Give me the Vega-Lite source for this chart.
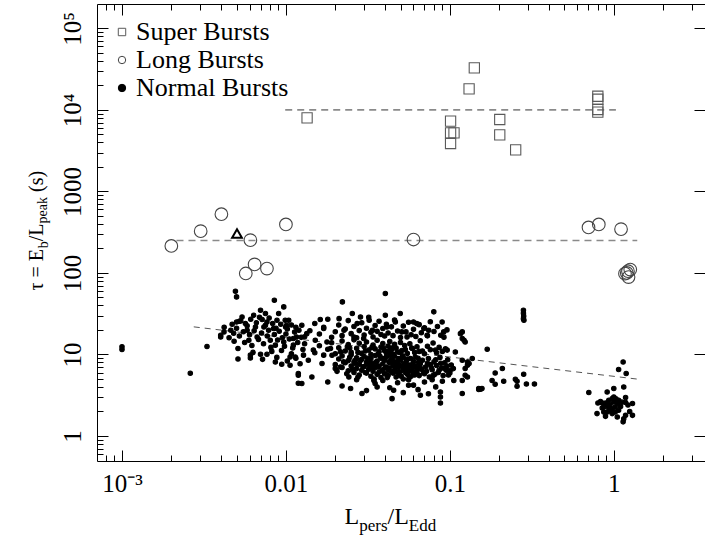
{
"$schema": "https://vega.github.io/schema/vega-lite/v6.json",
"width": 608, "height": 457,
"autosize": {"type": "none"},
"padding": {"left": 97, "top": 4, "right": 0, "bottom": 77},
"background": "white",
"config": {
  "view": {"stroke": "black", "strokeWidth": 1},
  "font": "Liberation Serif",
  "axis": {"domain": false, "grid": false, "labelFont": "Liberation Serif", "titleFont": "Liberation Serif", "tickColor": "black", "tickWidth": 1, "labelColor": "black", "titleColor": "black", "titleFontWeight": "normal", "labelFontSize": 25, "titlePadding": 0},
  "legend": {"orient": "none", "legendX": 12, "legendY": 15, "title": null, "padding": 0, "rowPadding": 2, "labelOffset": 1, "symbolSize": 55, "symbolStrokeWidth": 1, "labelFont": "Liberation Serif", "labelFontSize": 26, "labelColor": "black", "labelLimit": 300}
},
"datasets": {
  "lines": [
    {"g": "super", "x": 0.0099, "y": 10000}, {"g": "super", "x": 1.03, "y": 10000},
    {"g": "long", "x": 0.00215, "y": 250}, {"g": "long", "x": 1.39, "y": 250}
  ],
  "fit": [{"x": 0.00274, "y": 21.8}, {"x": 1.42, "y": 4.96}],
  "tri": [{"x": 0.00503, "y": 304}],
  "pts": [
    {"x":0.01346,"y":7980,"t":"S"},{"x":0.141,"y":32700,"t":"S"},{"x":0.131,"y":18100,"t":"S"},{"x":0.101,"y":7270,"t":"S"},{"x":0.101,"y":5220,"t":"S"},{"x":0.106,"y":5220,"t":"S"},{"x":0.101,"y":3870,"t":"S"},{"x":0.2015,"y":7620,"t":"S"},{"x":0.2015,"y":4930,"t":"S"},{"x":0.252,"y":3230,"t":"S"},{"x":0.799,"y":14700,"t":"S"},{"x":0.799,"y":13500,"t":"S"},{"x":0.799,"y":10100,"t":"S"},{"x":0.799,"y":9400,"t":"S"},
    {"x":0.002,"y":214,"t":"L"},{"x":0.00302,"y":325,"t":"L"},{"x":0.00404,"y":525,"t":"L"},{"x":0.00607,"y":252,"t":"L"},{"x":0.01,"y":393,"t":"L"},{"x":0.00569,"y":98.4,"t":"L"},{"x":0.00644,"y":127,"t":"L"},{"x":0.00766,"y":113,"t":"L"},{"x":0.06,"y":257,"t":"L"},{"x":0.701,"y":361,"t":"L"},{"x":0.81,"y":393,"t":"L"},{"x":1.107,"y":344,"t":"L"},{"x":1.17,"y":98,"t":"L"},{"x":1.26,"y":110,"t":"L"},{"x":1.23,"y":89,"t":"L"},{"x":1.22,"y":105,"t":"L"},{"x":1.2,"y":100,"t":"L"},
    {"x":0.001,"y":12.4,"t":"N"},{"x":0.001,"y":11.5,"t":"N"},{"x":0.00261,"y":5.88,"t":"N"},{"x":0.0033,"y":12.5,"t":"N"},{"x":0.00492,"y":59.6,"t":"N"},{"x":0.005,"y":50.8,"t":"N"},{"x":0.0085,"y":46.2,"t":"N"},{"x":0.0097,"y":38.3,"t":"N"},
    {"x":0.004,"y":17.2,"t":"N"},{"x":0.004,"y":16.4,"t":"N"},{"x":0.00419,"y":18.9,"t":"N"},{"x":0.00461,"y":19.8,"t":"N"},{"x":0.00483,"y":14.5,"t":"N"},{"x":0.0051,"y":11.8,"t":"N"},{"x":0.0051,"y":8.8,"t":"N"},{"x":0.005,"y":25,"t":"N"},{"x":0.0052,"y":25.5,"t":"N"},{"x":0.0054,"y":28.8,"t":"N"},{"x":0.00566,"y":23.9,"t":"N"},{"x":0.0058,"y":19.8,"t":"N"},{"x":0.00594,"y":14.9,"t":"N"},{"x":0.00607,"y":9.8,"t":"N"},{"x":0.00607,"y":9.06,"t":"N"},{"x":0.00636,"y":30.3,"t":"N"},{"x":0.00652,"y":21.7,"t":"N"},{"x":0.00667,"y":16.4,"t":"N"},{"x":0.007,"y":34.9,"t":"N"},{"x":0.00716,"y":26.8,"t":"N"},{"x":0.00734,"y":21.7,"t":"N"},{"x":0.007,"y":10.05,"t":"N"},{"x":0.00766,"y":10.05,"t":"N"},{"x":0.0075,"y":31.8,"t":"N"},{"x":0.00766,"y":25,"t":"N"},{"x":0.00784,"y":19.8,"t":"N"},{"x":0.00803,"y":14.9,"t":"N"},{"x":0.0084,"y":20.8,"t":"N"},{"x":0.00862,"y":13,"t":"N"},{"x":0.00862,"y":8.09,"t":"N"},{"x":0.00882,"y":26.3,"t":"N"},{"x":0.00903,"y":31.8,"t":"N"},{"x":0.00943,"y":7.58,"t":"N"},{"x":0.0097,"y":14.2,"t":"N"},{"x":0.00996,"y":21.7,"t":"N"},{"x":0.0104,"y":26.3,"t":"N"},{"x":0.0106,"y":9.3,"t":"N"},{"x":0.0106,"y":7.37,"t":"N"},{"x":0.0111,"y":13,"t":"N"},{"x":0.0116,"y":16.4,"t":"N"},{"x":0.0119,"y":5.56,"t":"N"},{"x":0.0119,"y":4.43,"t":"N"},
    {"x":0.0099,"y":26.3,"t":"N"},{"x":0.0101,"y":22.8,"t":"N"},{"x":0.0111,"y":15.7,"t":"N"},{"x":0.0114,"y":9.3,"t":"N"},{"x":0.0119,"y":5.83,"t":"N"},{"x":0.0125,"y":4.4,"t":"N"},{"x":0.0125,"y":22.8,"t":"N"},{"x":0.0134,"y":18,"t":"N"},{"x":0.0137,"y":8.49,"t":"N"},{"x":0.0144,"y":5.3,"t":"N"},{"x":0.0147,"y":11.3,"t":"N"},{"x":0.0151,"y":14.9,"t":"N"},{"x":0.0162,"y":26.8,"t":"N"},{"x":0.0166,"y":7.73,"t":"N"},{"x":0.017,"y":20.8,"t":"N"},{"x":0.0178,"y":14.2,"t":"N"},{"x":0.0187,"y":11.8,"t":"N"},{"x":0.0191,"y":9.76,"t":"N"},{"x":0.02,"y":6.71,"t":"N"},{"x":0.0211,"y":27.5,"t":"N"},{"x":0.0221,"y":44.1,"t":"N"},{"x":0.0226,"y":19.8,"t":"N"},{"x":0.0237,"y":12.4,"t":"N"},{"x":0.0242,"y":5.3,"t":"N"},{"x":0.0248,"y":3.82,"t":"N"},{"x":0.0254,"y":31.8,"t":"N"},{"x":0.026,"y":16.4,"t":"N"},{"x":0.0265,"y":8.49,"t":"N"},{"x":0.0272,"y":23.9,"t":"N"},{"x":0.0285,"y":28.8,"t":"N"},{"x":0.0291,"y":3.31,"t":"N"},{"x":0.0298,"y":15.7,"t":"N"},{"x":0.0322,"y":26.3,"t":"N"},{"x":0.0337,"y":19.8,"t":"N"},{"x":0.0344,"y":4.8,"t":"N"},{"x":0.036,"y":3.99,"t":"N"},{"x":0.0404,"y":55.9,"t":"N"},{"x":0.0404,"y":30.3,"t":"N"},{"x":0.0413,"y":21.7,"t":"N"},{"x":0.0433,"y":11.8,"t":"N"},{"x":0.0454,"y":3.64,"t":"N"},{"x":0.0444,"y":2.87,"t":"N"},{"x":0.0465,"y":25,"t":"N"},{"x":0.0498,"y":31.8,"t":"N"},{"x":0.0509,"y":18.9,"t":"N"},{"x":0.0521,"y":7.02,"t":"N"},{"x":0.0548,"y":16.4,"t":"N"},{"x":0.056,"y":4.19,"t":"N"},{"x":0.06,"y":25,"t":"N"},{"x":0.0628,"y":23.9,"t":"N"},{"x":0.0661,"y":3.16,"t":"N"},{"x":0.0694,"y":20.8,"t":"N"},{"x":0.0727,"y":17.2,"t":"N"},{"x":0.0743,"y":19.8,"t":"N"},{"x":0.0798,"y":33.3,"t":"N"},{"x":0.0817,"y":11.3,"t":"N"},{"x":0.0876,"y":3.47,"t":"N"},{"x":0.0876,"y":3.01,"t":"N"},{"x":0.0876,"y":2.54,"t":"N"},{"x":0.0897,"y":25,"t":"N"},{"x":0.0917,"y":18.9,"t":"N"},{"x":0.0963,"y":11.3,"t":"N"},{"x":0.1005,"y":6.4,"t":"N"},{"x":0.1057,"y":4.8,"t":"N"},{"x":0.108,"y":10.7,"t":"N"},{"x":0.116,"y":18,"t":"N"},{"x":0.119,"y":15.7,"t":"N"},{"x":0.119,"y":8.49,"t":"N"},{"x":0.119,"y":3.31,"t":"N"},{"x":0.124,"y":5.56,"t":"N"},{"x":0.128,"y":8.09,"t":"N"},{"x":0.137,"y":8.9,"t":"N"},{"x":0.15,"y":3.82,"t":"N"},
    {"x":0.119,"y":18.9,"t":"N"},{"x":0.122,"y":14.9,"t":"N"},{"x":0.124,"y":14.2,"t":"N"},{"x":0.124,"y":6.71,"t":"N"},{"x":0.128,"y":7.37,"t":"N"},{"x":0.131,"y":7.73,"t":"N"},{"x":0.128,"y":5.3,"t":"N"},{"x":0.119,"y":4.8,"t":"N"},{"x":0.169,"y":11.6,"t":"N"},{"x":0.15,"y":3.71,"t":"N"},{"x":0.157,"y":3.82,"t":"N"},{"x":0.154,"y":3.75,"t":"N"},{"x":0.181,"y":4.8,"t":"N"},{"x":0.189,"y":5.93,"t":"N"},{"x":0.189,"y":4.31,"t":"N"},{"x":0.209,"y":6.71,"t":"N"},{"x":0.213,"y":4.69,"t":"N"},{"x":0.251,"y":4.96,"t":"N"},{"x":0.257,"y":4.69,"t":"N"},{"x":0.257,"y":4.07,"t":"N"},{"x":0.282,"y":5.71,"t":"N"},{"x":0.293,"y":4.34,"t":"N"},{"x":0.328,"y":4.34,"t":"N"},{"x":0.281,"y":34.9,"t":"N"},{"x":0.281,"y":32,"t":"N"},{"x":0.282,"y":29.5,"t":"N"},{"x":0.281,"y":27.4,"t":"N"},{"x":0.283,"y":26.3,"t":"N"},
    {"x":0.704,"y":3.41,"t":"N"},{"x":1.14,"y":8.09,"t":"N"},{"x":1.07,"y":6.53,"t":"N"},{"x":1.19,"y":5.83,"t":"N"},{"x":1.15,"y":3.99,"t":"N"},{"x":1.0,"y":3.82,"t":"N"},{"x":0.911,"y":3.47,"t":"N"},{"x":0.8,"y":2.54,"t":"N"},{"x":0.85,"y":2.54,"t":"N"},{"x":0.89,"y":2.54,"t":"N"},{"x":0.932,"y":2.74,"t":"N"},{"x":0.978,"y":2.87,"t":"N"},{"x":1.0,"y":2.61,"t":"N"},{"x":1.05,"y":2.5,"t":"N"},{"x":1.02,"y":2.27,"t":"N"},{"x":0.978,"y":2.17,"t":"N"},{"x":0.932,"y":2.21,"t":"N"},{"x":0.911,"y":2.38,"t":"N"},{"x":0.869,"y":2.27,"t":"N"},{"x":1.07,"y":2.74,"t":"N"},{"x":1.18,"y":2.96,"t":"N"},{"x":1.18,"y":2.57,"t":"N"},{"x":1.3,"y":2.5,"t":"N"},{"x":0.79,"y":1.88,"t":"N"},{"x":0.869,"y":1.97,"t":"N"},{"x":0.89,"y":1.74,"t":"N"},{"x":0.978,"y":1.88,"t":"N"},{"x":1.05,"y":1.71,"t":"N"},{"x":1.15,"y":1.63,"t":"N"},{"x":1.14,"y":1.49,"t":"N"},{"x":1.18,"y":1.79,"t":"N"},{"x":1.3,"y":1.79,"t":"N"},{"x":1.0,"y":3.01,"t":"N"},{"x":0.955,"y":2.03,"t":"N"},{"x":1.07,"y":2.07,"t":"N"},{"x":0.911,"y":1.97,"t":"N"},{"x":1.02,"y":1.97,"t":"N"},{"x":1.1,"y":2.3,"t":"N"},{"x":1.12,"y":2.6,"t":"N"},{"x":0.95,"y":2.45,"t":"N"},{"x":1.03,"y":2.85,"t":"N"},{"x":0.85,"y":2.2,"t":"N"},{"x":1.25,"y":2.0,"t":"N"},{"x":1.22,"y":2.4,"t":"N"},{"x":0.83,"y":2.65,"t":"N"},
    {"x":0.020,"y":7.5,"t":"N"},{"x":0.021,"y":8.8,"t":"N"},{"x":0.022,"y":6.9,"t":"N"},{"x":0.022,"y":9.6,"t":"N"},{"x":0.023,"y":7.9,"t":"N"},{"x":0.024,"y":6.3,"t":"N"},{"x":0.024,"y":8.4,"t":"N"},{"x":0.025,"y":9.9,"t":"N"},{"x":0.025,"y":7.2,"t":"N"},{"x":0.026,"y":6.0,"t":"N"},{"x":0.026,"y":8.1,"t":"N"},{"x":0.027,"y":9.1,"t":"N"},{"x":0.027,"y":6.7,"t":"N"},{"x":0.028,"y":7.6,"t":"N"},{"x":0.028,"y":5.6,"t":"N"},{"x":0.029,"y":8.7,"t":"N"},{"x":0.029,"y":6.4,"t":"N"},{"x":0.030,"y":7.1,"t":"N"},{"x":0.030,"y":9.4,"t":"N"},{"x":0.031,"y":5.9,"t":"N"},{"x":0.031,"y":8.0,"t":"N"},{"x":0.032,"y":6.6,"t":"N"},{"x":0.032,"y":7.4,"t":"N"},{"x":0.033,"y":8.9,"t":"N"},{"x":0.033,"y":5.4,"t":"N"},{"x":0.034,"y":6.2,"t":"N"},{"x":0.034,"y":7.8,"t":"N"},{"x":0.035,"y":9.7,"t":"N"},{"x":0.035,"y":6.9,"t":"N"},{"x":0.036,"y":5.7,"t":"N"},{"x":0.036,"y":8.3,"t":"N"},{"x":0.037,"y":7.2,"t":"N"},{"x":0.037,"y":6.1,"t":"N"},{"x":0.038,"y":9.0,"t":"N"},{"x":0.038,"y":5.2,"t":"N"},{"x":0.039,"y":7.7,"t":"N"},{"x":0.039,"y":6.5,"t":"N"},{"x":0.040,"y":8.5,"t":"N"},{"x":0.040,"y":5.8,"t":"N"},{"x":0.041,"y":7.0,"t":"N"},{"x":0.041,"y":9.3,"t":"N"},{"x":0.042,"y":6.3,"t":"N"},{"x":0.042,"y":5.5,"t":"N"},{"x":0.043,"y":7.9,"t":"N"},{"x":0.043,"y":6.8,"t":"N"},{"x":0.044,"y":8.7,"t":"N"},{"x":0.045,"y":5.9,"t":"N"},{"x":0.045,"y":7.3,"t":"N"},{"x":0.046,"y":6.4,"t":"N"},{"x":0.046,"y":9.5,"t":"N"},{"x":0.047,"y":5.3,"t":"N"},{"x":0.047,"y":8.0,"t":"N"},{"x":0.048,"y":6.9,"t":"N"},{"x":0.048,"y":7.6,"t":"N"},{"x":0.049,"y":5.6,"t":"N"},{"x":0.05,"y":8.4,"t":"N"},{"x":0.05,"y":6.2,"t":"N"},{"x":0.051,"y":7.1,"t":"N"},{"x":0.052,"y":5.0,"t":"N"},{"x":0.052,"y":9.1,"t":"N"},{"x":0.053,"y":6.6,"t":"N"},{"x":0.054,"y":7.8,"t":"N"},{"x":0.055,"y":5.7,"t":"N"},{"x":0.055,"y":8.8,"t":"N"},{"x":0.056,"y":6.3,"t":"N"},{"x":0.057,"y":7.4,"t":"N"},{"x":0.058,"y":5.4,"t":"N"},{"x":0.059,"y":6.9,"t":"N"},{"x":0.06,"y":8.2,"t":"N"},{"x":0.06,"y":5.9,"t":"N"},{"x":0.062,"y":7.2,"t":"N"},{"x":0.063,"y":6.1,"t":"N"},{"x":0.064,"y":9.0,"t":"N"},{"x":0.065,"y":5.5,"t":"N"},{"x":0.066,"y":7.7,"t":"N"},{"x":0.067,"y":6.6,"t":"N"},{"x":0.068,"y":8.5,"t":"N"},{"x":0.07,"y":5.8,"t":"N"},{"x":0.071,"y":7.0,"t":"N"},{"x":0.072,"y":6.2,"t":"N"},{"x":0.074,"y":8.9,"t":"N"},{"x":0.075,"y":5.3,"t":"N"},{"x":0.076,"y":7.5,"t":"N"},{"x":0.078,"y":6.5,"t":"N"},{"x":0.08,"y":8.1,"t":"N"},{"x":0.081,"y":5.7,"t":"N"},{"x":0.083,"y":7.3,"t":"N"},{"x":0.085,"y":6.0,"t":"N"},{"x":0.087,"y":9.2,"t":"N"},{"x":0.089,"y":6.8,"t":"N"},{"x":0.091,"y":5.5,"t":"N"},{"x":0.093,"y":7.9,"t":"N"},{"x":0.095,"y":6.4,"t":"N"},{"x":0.097,"y":8.6,"t":"N"},{"x":0.1,"y":5.9,"t":"N"},{"x":0.102,"y":7.4,"t":"N"},{"x":0.105,"y":6.7,"t":"N"},
    {"x":0.0205,"y":6.2,"t":"N"},{"x":0.0215,"y":7.0,"t":"N"},{"x":0.0225,"y":8.1,"t":"N"},{"x":0.0235,"y":5.8,"t":"N"},{"x":0.0245,"y":9.2,"t":"N"},{"x":0.0255,"y":6.6,"t":"N"},{"x":0.0265,"y":7.7,"t":"N"},{"x":0.0275,"y":5.3,"t":"N"},{"x":0.0285,"y":8.4,"t":"N"},{"x":0.0295,"y":7.0,"t":"N"},{"x":0.0305,"y":6.0,"t":"N"},{"x":0.0315,"y":9.0,"t":"N"},{"x":0.0325,"y":7.9,"t":"N"},{"x":0.0335,"y":6.9,"t":"N"},{"x":0.0345,"y":5.0,"t":"N"},{"x":0.0355,"y":8.0,"t":"N"},{"x":0.0365,"y":7.0,"t":"N"},{"x":0.0375,"y":9.5,"t":"N"},{"x":0.0385,"y":6.3,"t":"N"},{"x":0.0395,"y":8.9,"t":"N"},{"x":0.0405,"y":6.9,"t":"N"},{"x":0.0415,"y":5.2,"t":"N"},{"x":0.0425,"y":8.1,"t":"N"},{"x":0.0435,"y":9.8,"t":"N"},{"x":0.0445,"y":6.0,"t":"N"},{"x":0.0455,"y":8.2,"t":"N"},{"x":0.0465,"y":7.0,"t":"N"},{"x":0.0475,"y":6.1,"t":"N"},{"x":0.0485,"y":8.9,"t":"N"},{"x":0.0495,"y":7.3,"t":"N"},{"x":0.0505,"y":5.4,"t":"N"},{"x":0.0515,"y":9.6,"t":"N"},{"x":0.0525,"y":7.7,"t":"N"},{"x":0.0535,"y":6.0,"t":"N"},{"x":0.0545,"y":8.4,"t":"N"},{"x":0.0555,"y":7.0,"t":"N"},{"x":0.0565,"y":5.2,"t":"N"},{"x":0.0575,"y":8.9,"t":"N"},{"x":0.0585,"y":6.2,"t":"N"},{"x":0.0595,"y":7.6,"t":"N"},{"x":0.061,"y":5.6,"t":"N"},{"x":0.0615,"y":9.3,"t":"N"},{"x":0.0625,"y":6.6,"t":"N"},{"x":0.0645,"y":8.0,"t":"N"},{"x":0.0655,"y":7.0,"t":"N"},{"x":0.069,"y":6.0,"t":"N"},{"x":0.073,"y":7.8,"t":"N"},{"x":0.077,"y":6.9,"t":"N"},{"x":0.079,"y":5.5,"t":"N"},{"x":0.082,"y":8.6,"t":"N"},{"x":0.086,"y":6.4,"t":"N"},{"x":0.088,"y":7.8,"t":"N"},{"x":0.092,"y":6.8,"t":"N"},{"x":0.096,"y":7.2,"t":"N"},{"x":0.098,"y":5.6,"t":"N"},
    {"x":0.0215,"y":10.8,"t":"N"},{"x":0.0245,"y":12.0,"t":"N"},{"x":0.0275,"y":10.6,"t":"N"},{"x":0.0305,"y":11.0,"t":"N"},{"x":0.0335,"y":12.2,"t":"N"},{"x":0.0365,"y":10.1,"t":"N"},{"x":0.0395,"y":11.9,"t":"N"},{"x":0.0425,"y":10.9,"t":"N"},{"x":0.0455,"y":12.4,"t":"N"},{"x":0.0495,"y":10.6,"t":"N"},{"x":0.0535,"y":11.5,"t":"N"},{"x":0.0585,"y":12.0,"t":"N"},{"x":0.065,"y":10.9,"t":"N"},
    {"x":0.015,"y":10.5,"t":"N"},{"x":0.016,"y":12.8,"t":"N"},{"x":0.017,"y":9.8,"t":"N"},{"x":0.018,"y":11.6,"t":"N"},{"x":0.019,"y":13.9,"t":"N"},{"x":0.02,"y":10.2,"t":"N"},{"x":0.021,"y":12.1,"t":"N"},{"x":0.022,"y":14.6,"t":"N"},{"x":0.023,"y":11.0,"t":"N"},{"x":0.024,"y":13.2,"t":"N"},{"x":0.025,"y":10.6,"t":"N"},{"x":0.026,"y":15.1,"t":"N"},{"x":0.027,"y":11.9,"t":"N"},{"x":0.028,"y":13.7,"t":"N"},{"x":0.029,"y":10.3,"t":"N"},{"x":0.03,"y":12.5,"t":"N"},{"x":0.031,"y":14.2,"t":"N"},{"x":0.032,"y":11.3,"t":"N"},{"x":0.033,"y":10.0,"t":"N"},{"x":0.034,"y":13.0,"t":"N"},{"x":0.035,"y":11.7,"t":"N"},{"x":0.036,"y":14.9,"t":"N"},{"x":0.037,"y":10.8,"t":"N"},{"x":0.038,"y":12.3,"t":"N"},{"x":0.039,"y":13.6,"t":"N"},{"x":0.04,"y":11.1,"t":"N"},{"x":0.041,"y":10.4,"t":"N"},{"x":0.042,"y":12.7,"t":"N"},{"x":0.043,"y":14.4,"t":"N"},{"x":0.044,"y":11.5,"t":"N"},{"x":0.045,"y":10.1,"t":"N"},{"x":0.046,"y":13.3,"t":"N"},{"x":0.047,"y":12.0,"t":"N"},{"x":0.048,"y":10.7,"t":"N"},{"x":0.05,"y":14.0,"t":"N"},{"x":0.051,"y":11.2,"t":"N"},{"x":0.053,"y":12.9,"t":"N"},{"x":0.055,"y":10.3,"t":"N"},{"x":0.057,"y":13.5,"t":"N"},{"x":0.059,"y":11.8,"t":"N"},{"x":0.061,"y":10.6,"t":"N"},{"x":0.063,"y":12.4,"t":"N"},{"x":0.066,"y":14.7,"t":"N"},{"x":0.068,"y":11.0,"t":"N"},{"x":0.07,"y":10.2,"t":"N"},{"x":0.073,"y":12.6,"t":"N"},{"x":0.076,"y":11.4,"t":"N"},{"x":0.079,"y":13.8,"t":"N"},{"x":0.083,"y":10.5,"t":"N"},{"x":0.086,"y":12.2,"t":"N"},{"x":0.09,"y":10.9,"t":"N"},{"x":0.094,"y":11.7,"t":"N"},
    {"x":0.013,"y":16.5,"t":"N"},{"x":0.014,"y":19.5,"t":"N"},{"x":0.015,"y":24.0,"t":"N"},{"x":0.016,"y":17.8,"t":"N"},{"x":0.017,"y":21.5,"t":"N"},{"x":0.018,"y":27.0,"t":"N"},{"x":0.019,"y":16.2,"t":"N"},{"x":0.02,"y":19.0,"t":"N"},{"x":0.021,"y":23.0,"t":"N"},{"x":0.022,"y":17.0,"t":"N"},{"x":0.023,"y":20.5,"t":"N"},{"x":0.024,"y":26.0,"t":"N"},{"x":0.025,"y":18.0,"t":"N"},{"x":0.026,"y":22.0,"t":"N"},{"x":0.027,"y":16.0,"t":"N"},{"x":0.028,"y":19.6,"t":"N"},{"x":0.029,"y":24.5,"t":"N"},{"x":0.03,"y":17.3,"t":"N"},{"x":0.031,"y":21.0,"t":"N"},{"x":0.032,"y":28.5,"t":"N"},{"x":0.033,"y":18.7,"t":"N"},{"x":0.034,"y":16.4,"t":"N"},{"x":0.035,"y":22.6,"t":"N"},{"x":0.036,"y":19.2,"t":"N"},{"x":0.037,"y":25.5,"t":"N"},{"x":0.038,"y":17.6,"t":"N"},{"x":0.039,"y":20.8,"t":"N"},{"x":0.04,"y":16.8,"t":"N"},{"x":0.041,"y":23.5,"t":"N"},{"x":0.042,"y":18.3,"t":"N"},{"x":0.044,"y":21.8,"t":"N"},{"x":0.045,"y":17.0,"t":"N"},{"x":0.046,"y":26.5,"t":"N"},{"x":0.048,"y":19.4,"t":"N"},{"x":0.05,"y":16.1,"t":"N"},{"x":0.052,"y":22.3,"t":"N"},{"x":0.054,"y":18.9,"t":"N"},{"x":0.056,"y":24.8,"t":"N"},{"x":0.058,"y":17.4,"t":"N"},{"x":0.06,"y":20.3,"t":"N"},{"x":0.062,"y":16.6,"t":"N"},{"x":0.065,"y":23.2,"t":"N"},{"x":0.067,"y":18.5,"t":"N"},{"x":0.07,"y":21.2,"t":"N"},{"x":0.073,"y":16.9,"t":"N"},{"x":0.076,"y":25.2,"t":"N"},{"x":0.08,"y":19.1,"t":"N"},{"x":0.084,"y":22.0,"t":"N"},{"x":0.088,"y":17.2,"t":"N"},{"x":0.092,"y":16.3,"t":"N"},{"x":0.096,"y":20.0,"t":"N"},
    {"x":0.018,"y":4.6,"t":"N"},{"x":0.022,"y":4.1,"t":"N"},{"x":0.027,"y":4.9,"t":"N"},{"x":0.031,"y":3.6,"t":"N"},{"x":0.035,"y":4.4,"t":"N"},{"x":0.039,"y":4.8,"t":"N"},{"x":0.043,"y":3.9,"t":"N"},{"x":0.048,"y":4.5,"t":"N"},{"x":0.052,"y":3.4,"t":"N"},{"x":0.056,"y":4.9,"t":"N"},{"x":0.06,"y":4.2,"t":"N"},{"x":0.064,"y":3.7,"t":"N"},{"x":0.07,"y":4.6,"t":"N"},{"x":0.074,"y":3.3,"t":"N"},{"x":0.078,"y":4.9,"t":"N"},{"x":0.082,"y":4.0,"t":"N"},{"x":0.09,"y":4.7,"t":"N"},
    {"x":0.0042,"y":21.5,"t":"N"},{"x":0.0045,"y":16.0,"t":"N"},{"x":0.0047,"y":23.5,"t":"N"},{"x":0.0048,"y":18.2,"t":"N"},{"x":0.005,"y":21.0,"t":"N"},{"x":0.0052,"y":16.8,"t":"N"},{"x":0.0053,"y":25.8,"t":"N"},{"x":0.0055,"y":19.0,"t":"N"},{"x":0.0056,"y":14.0,"t":"N"},{"x":0.0058,"y":22.5,"t":"N"},{"x":0.006,"y":17.5,"t":"N"},{"x":0.0061,"y":27.0,"t":"N"},{"x":0.0062,"y":12.9,"t":"N"},{"x":0.0064,"y":19.5,"t":"N"},{"x":0.0066,"y":24.5,"t":"N"},{"x":0.0068,"y":15.3,"t":"N"},{"x":0.0069,"y":28.5,"t":"N"},{"x":0.0071,"y":18.3,"t":"N"},{"x":0.0073,"y":13.5,"t":"N"},{"x":0.0075,"y":22.8,"t":"N"},{"x":0.0077,"y":16.8,"t":"N"},{"x":0.0079,"y":28.0,"t":"N"},{"x":0.0081,"y":12.2,"t":"N"},{"x":0.0083,"y":24.0,"t":"N"},{"x":0.0085,"y":17.6,"t":"N"},{"x":0.0087,"y":21.0,"t":"N"},{"x":0.0089,"y":15.0,"t":"N"},{"x":0.0091,"y":19.3,"t":"N"},{"x":0.0093,"y":23.5,"t":"N"},{"x":0.0095,"y":16.0,"t":"N"},{"x":0.0098,"y":12.6,"t":"N"},{"x":0.01,"y":17.8,"t":"N"},{"x":0.0102,"y":20.5,"t":"N"},{"x":0.0105,"y":15.5,"t":"N"},{"x":0.0108,"y":23.0,"t":"N"},{"x":0.011,"y":12.0,"t":"N"},{"x":0.0113,"y":18.8,"t":"N"},{"x":0.0115,"y":21.5,"t":"N"},{"x":0.0118,"y":14.0,"t":"N"},{"x":0.012,"y":19.8,"t":"N"},{"x":0.0124,"y":16.2,"t":"N"},{"x":0.0127,"y":11.5,"t":"N"},{"x":0.013,"y":13.5,"t":"N"},
    {"x":0.0063,"y":10.6,"t":"N"},{"x":0.0072,"y":8.7,"t":"N"},{"x":0.0082,"y":10.9,"t":"N"},{"x":0.0088,"y":9.2,"t":"N"},{"x":0.0094,"y":11.2,"t":"N"},{"x":0.0102,"y":8.3,"t":"N"},{"x":0.0108,"y":10.2,"t":"N"},{"x":0.0115,"y":9.0,"t":"N"},{"x":0.0122,"y":7.7,"t":"N"},{"x":0.0128,"y":9.8,"t":"N"}
  ]
},
"resolve": {"axis": {"x": "independent", "y": "independent"}},
"layer": [
  {
    "data": {"name": "lines"},
    "mark": {"type": "line", "stroke": "#8a8a8a", "strokeWidth": 1.6, "strokeDash": [7, 5], "clip": true},
    "encoding": {
      "x": {"field": "x", "type": "quantitative",
        "scale": {"type": "log", "domain": [0.000704, 3.6], "nice": false, "zero": false},
        "axis": {"orient": "bottom", "values": [0.0008,0.0009,0.002,0.003,0.004,0.005,0.006,0.007,0.008,0.009,0.02,0.03,0.04,0.05,0.06,0.07,0.08,0.09,0.2,0.3,0.4,0.5,0.6,0.7,0.8,0.9,2,3], "tickSize": -6, "labels": false,
          "title": "pers", "titleX": 261.7, "titleY": 69, "titleAlign": "left", "titleBaseline": "alphabetic", "titleAngle": 0, "titleFontSize": 17}},
      "y": {"field": "y", "type": "quantitative",
        "scale": {"type": "log", "domain": [0.493, 199000], "nice": false, "zero": false},
        "axis": {"orient": "left", "values": [0.6,0.7,0.8,0.9,2,3,4,5,6,7,8,9,20,30,40,50,60,70,80,90,200,300,400,500,600,700,800,900,2000,3000,4000,5000,6000,7000,8000,9000,20000,30000,40000,50000,60000,70000,80000,90000], "tickSize": -6, "labels": false,
          "title": "b", "titleX": -50, "titleY": 243.7, "titleAlign": "left", "titleBaseline": "alphabetic", "titleAngle": 270, "titleFontSize": 14}},
      "detail": {"field": "g", "type": "nominal"}
    }
  },
  {
    "data": {"name": "fit"},
    "mark": {"type": "line", "stroke": "#555555", "strokeWidth": 1, "strokeDash": [6, 5], "clip": true},
    "encoding": {
      "x": {"field": "x", "type": "quantitative",
        "scale": {"type": "log", "domain": [0.000704, 3.6], "nice": false, "zero": false},
        "axis": {"orient": "top", "values": [0.0008,0.0009,0.002,0.003,0.004,0.005,0.006,0.007,0.008,0.009,0.02,0.03,0.04,0.05,0.06,0.07,0.08,0.09,0.2,0.3,0.4,0.5,0.6,0.7,0.8,0.9,2,3], "tickSize": -6, "labels": false,
          "title": "Edd", "titleX": 311.3, "titleY": 526, "titleAlign": "left", "titleBaseline": "alphabetic", "titleAngle": 0, "titleFontSize": 17}},
      "y": {"field": "y", "type": "quantitative",
        "scale": {"type": "log", "domain": [0.493, 199000], "nice": false, "zero": false},
        "axis": {"orient": "right", "values": [1,10,100,1000,10000,100000], "tickSize": -11, "labels": false,
          "title": "peak", "titleX": -659, "titleY": 218.9, "titleAlign": "left", "titleBaseline": "alphabetic", "titleAngle": 270, "titleFontSize": 14}}
    }
  },
  {
    "data": {"name": "tri"},
    "mark": {"type": "point", "shape": "triangle-up", "filled": false, "stroke": "black", "strokeWidth": 2, "size": 95, "opacity": 1},
    "encoding": {
      "x": {"field": "x", "type": "quantitative",
        "scale": {"type": "log", "domain": [0.000704, 3.6], "nice": false, "zero": false},
        "axis": {"orient": "top", "values": [0.001,0.01,0.1,1], "tickSize": -11, "labels": false,
          "title": "/L", "titleX": 290, "titleY": 519, "titleAlign": "left", "titleBaseline": "alphabetic", "titleAngle": 0, "titleFontSize": 24}},
      "y": {"field": "y", "type": "quantitative",
        "scale": {"type": "log", "domain": [0.493, 199000], "nice": false, "zero": false},
        "axis": {"orient": "left", "ticks": false, "labels": false,
          "title": "(s)", "titleX": -55, "titleY": 187.5, "titleAlign": "left", "titleBaseline": "alphabetic", "titleAngle": 270, "titleFontSize": 20}}
    }
  },
  {
    "data": {"name": "tri"},
    "mark": {"type": "point", "opacity": 0},
    "encoding": {
      "x": {"field": "x", "type": "quantitative",
        "scale": {"type": "log", "domain": [0.000704, 3.6], "nice": false, "zero": false}, "axis": null},
      "y": {"field": "y", "type": "quantitative",
        "scale": {"type": "log", "domain": [0.493, 199000], "nice": false, "zero": false},
        "axis": {"orient": "left", "ticks": false, "labels": false,
          "title": "/L", "titleX": -55, "titleY": 236.7, "titleAlign": "left", "titleBaseline": "alphabetic", "titleAngle": 270, "titleFontSize": 20}}
    }
  },
  {
    "data": {"name": "pts"},
    "transform": [{"filter": "datum.t == 'S'"}],
    "mark": {"type": "point", "filled": true, "opacity": 1, "strokeWidth": 1.1, "size": 105},
    "encoding": {
      "x": {"field": "x", "type": "quantitative", "scale": {"type": "log", "domain": [0.000704, 3.6], "nice": false, "zero": false}, "axis": null},
      "y": {"field": "y", "type": "quantitative", "scale": {"type": "log", "domain": [0.493, 199000], "nice": false, "zero": false}, "axis": null},
      "shape": {"field": "t", "type": "nominal", "scale": {"domain": ["S", "L", "N"], "range": ["square", "circle", "circle"]}},
      "color": {"field": "t", "type": "nominal", "scale": {"domain": ["S", "L", "N"], "range": ["transparent", "transparent", "black"]}},
      "stroke": {"field": "t", "type": "nominal", "scale": {"domain": ["S", "L", "N"], "range": ["#5a5a5a", "#444444", "black"]}}
    }
  },
  {
    "data": {"name": "pts"},
    "transform": [{"filter": "datum.t == 'L'"}],
    "mark": {"type": "point", "filled": true, "opacity": 1, "strokeWidth": 1.1, "size": 160},
    "encoding": {
      "x": {"field": "x", "type": "quantitative", "scale": {"type": "log", "domain": [0.000704, 3.6], "nice": false, "zero": false}, "axis": null},
      "y": {"field": "y", "type": "quantitative", "scale": {"type": "log", "domain": [0.493, 199000], "nice": false, "zero": false}, "axis": null},
      "shape": {"field": "t", "type": "nominal", "scale": {"domain": ["S", "L", "N"], "range": ["square", "circle", "circle"]}},
      "color": {"field": "t", "type": "nominal", "scale": {"domain": ["S", "L", "N"], "range": ["transparent", "transparent", "black"]}},
      "stroke": {"field": "t", "type": "nominal", "scale": {"domain": ["S", "L", "N"], "range": ["#5a5a5a", "#444444", "black"]}}
    }
  },
  {
    "data": {"name": "pts"},
    "transform": [{"filter": "datum.t == 'N'"}],
    "mark": {"type": "point", "filled": true, "opacity": 1, "strokeWidth": 1.1, "size": 20},
    "encoding": {
      "x": {"field": "x", "type": "quantitative",
        "scale": {"type": "log", "domain": [0.000704, 3.6], "nice": false, "zero": false},
        "axis": {"orient": "bottom", "values": [0.001,0.01,0.1,1], "tickSize": -11, "labelPadding": 41, "labelBaseline": "alphabetic", "labelAlign": "center", "labelFlush": false, "labelOverlap": false,
          "labelExpr": "datum.value < 0.005 ? '10⁻³' : datum.value < 0.05 ? '0.01' : datum.value < 0.5 ? '0.1' : '1'",
          "title": "L", "titleX": 247, "titleY": 62, "titleAlign": "left", "titleBaseline": "alphabetic", "titleAngle": 0, "titleFontSize": 24}},
      "y": {"field": "y", "type": "quantitative",
        "scale": {"type": "log", "domain": [0.493, 199000], "nice": false, "zero": false},
        "axis": {"orient": "left", "values": [1,10,100,1000,10000,100000], "tickSize": -11, "labelPadding": 27.7, "labelAngle": 270, "labelAlign": "center", "labelBaseline": "alphabetic", "labelFlush": false, "labelOverlap": false,
          "labelExpr": "datum.value < 5 ? '1' : datum.value < 50 ? '10' : datum.value < 500 ? '100' : datum.value < 5000 ? '1000' : datum.value < 50000 ? '10⁴' : '10⁵'",
          "title": "τ = E", "titleX": -55, "titleY": 286, "titleAlign": "left", "titleBaseline": "alphabetic", "titleAngle": 270, "titleFontSize": 20}},
      "shape": {"field": "t", "type": "nominal", "scale": {"domain": ["S", "L", "N"], "range": ["square", "circle", "circle"]},
        "legend": {"labelExpr": "datum.value == 'S' ? 'Super Bursts' : datum.value == 'L' ? 'Long Bursts' : 'Normal Bursts'"}},
      "color": {"field": "t", "type": "nominal", "scale": {"domain": ["S", "L", "N"], "range": ["transparent", "transparent", "black"]},
        "legend": {"labelExpr": "datum.value == 'S' ? 'Super Bursts' : datum.value == 'L' ? 'Long Bursts' : 'Normal Bursts'"}},
      "stroke": {"field": "t", "type": "nominal", "scale": {"domain": ["S", "L", "N"], "range": ["#5a5a5a", "#444444", "black"]},
        "legend": {"labelExpr": "datum.value == 'S' ? 'Super Bursts' : datum.value == 'L' ? 'Long Bursts' : 'Normal Bursts'"}}
    }
  }
]
}
